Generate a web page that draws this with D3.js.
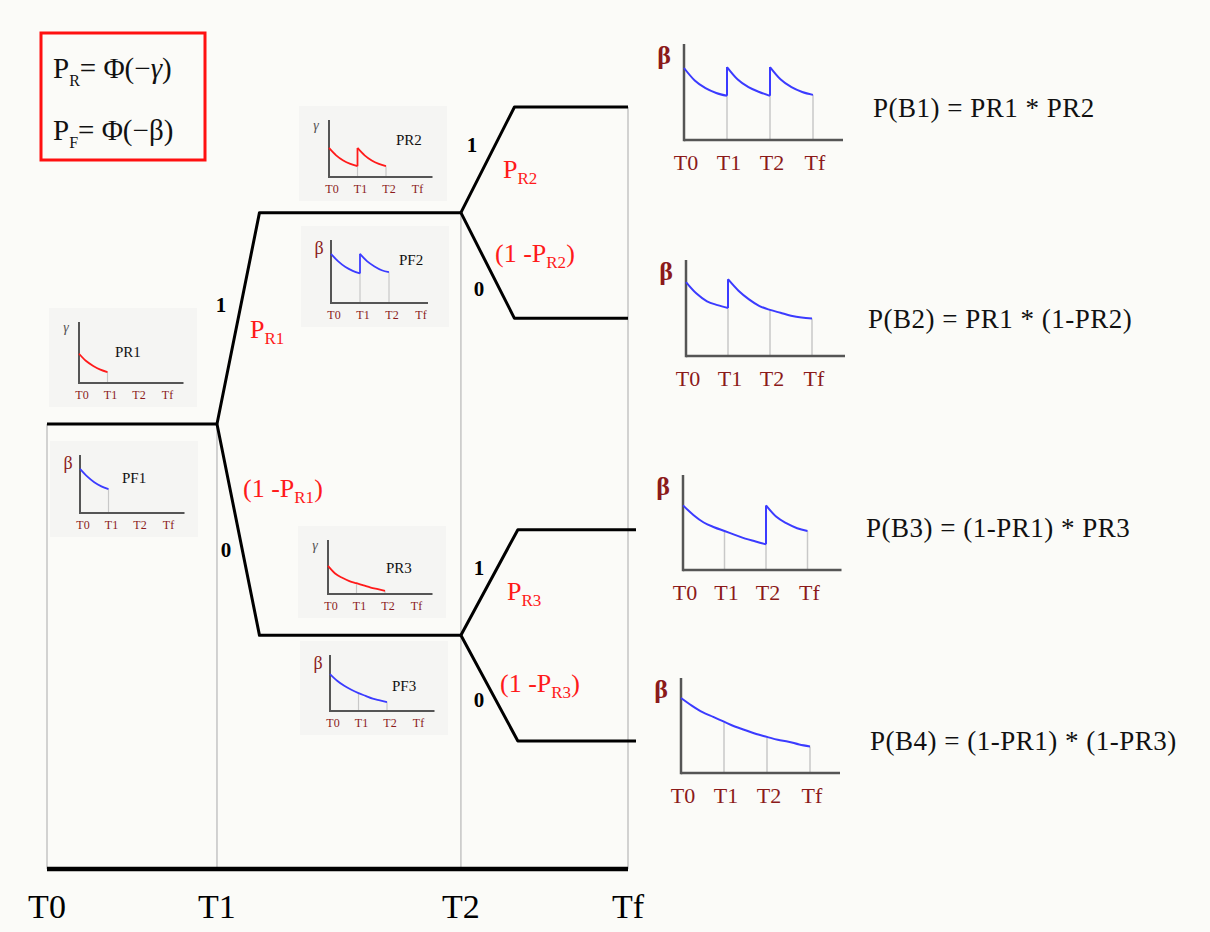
<!DOCTYPE html>
<html>
<head>
<meta charset="utf-8">
<script src="https://cdn.jsdelivr.net/npm/d3@7"></script>
<style>
  body { margin: 0; background: #fbfbf8; }
  svg { display: block; }
  text { font-family: "Liberation Serif", "Times New Roman", "DejaVu Serif", serif; }
</style>
</head>
<body>
<svg id="chart" width="1210" height="932"></svg>
<script>
// ---- data ----
var mainTicks = ["T0", "T1", "T2", "Tf"];
var mainTimes = [0, 1, 2.435, 3.418];
var insetTicks = ["T0", "T1", "T2", "Tf"];

// tree branches as [time, level]
var branches = [
  [[0, 0], [1, 0]],
  [[1, 0], [1.25, 2], [2.435, 2]],
  [[1, 0], [1.25, -2], [2.435, -2]],
  [[2.435, 2], [2.75, 3], [3.418, 3]],
  [[2.435, 2], [2.75, 1], [3.418, 1]],
  [[2.435, -2], [2.77, -1], [3.465, -1]],
  [[2.435, -2], [2.77, -3], [3.465, -3]]
];
// level at which each main guide line starts
var guideTops = [0, 0, 2, 3];

// inset curves: [tick position, share of axis height]
var pr1Curve = [[0, 0.48], [0.25, 0.36], [0.5, 0.28], [0.75, 0.22], [1, 0.18]];
var pf1Curve = [[0, 0.76], [0.25, 0.63], [0.5, 0.53], [0.75, 0.46], [1, 0.41]];
var pr2Curve = [[0, 0.51], [0.25, 0.38], [0.5, 0.29], [0.75, 0.23], [1, 0.19],
                [1, 0.51], [1.25, 0.38], [1.5, 0.29], [1.75, 0.23], [2, 0.19]];
var pf2Curve = [[0, 0.78], [0.25, 0.66], [0.5, 0.57], [0.75, 0.51], [1, 0.47],
                [1, 0.78], [1.25, 0.66], [1.5, 0.58], [1.75, 0.52], [2, 0.49]];
var pr3Curve = [[0, 0.52], [0.25, 0.38], [0.5, 0.3], [0.75, 0.24], [1, 0.2],
                [1.25, 0.16], [1.5, 0.12], [1.75, 0.09], [2, 0.06]];
var pf3Curve = [[0, 0.66], [0.25, 0.54], [0.5, 0.45], [0.75, 0.38], [1, 0.32],
                [1.25, 0.27], [1.5, 0.22], [1.75, 0.19], [2, 0.16]];
var b1Curve = [[0, 0.75], [0.25, 0.62], [0.5, 0.54], [0.75, 0.49], [1, 0.46],
               [1, 0.76], [1.25, 0.63], [1.5, 0.55], [1.75, 0.5], [2, 0.46],
               [2, 0.76], [2.25, 0.63], [2.5, 0.55], [2.75, 0.5], [3, 0.47]];
var b2Curve = [[0, 0.77], [0.25, 0.65], [0.5, 0.57], [0.75, 0.53], [1, 0.5],
               [1, 0.8], [1.25, 0.68], [1.5, 0.59], [1.75, 0.52], [2, 0.48],
               [2.25, 0.45], [2.5, 0.42], [2.75, 0.4], [3, 0.39]];
var b3Curve = [[0, 0.68], [0.25, 0.58], [0.5, 0.5], [0.75, 0.45], [1, 0.41],
               [1.25, 0.37], [1.5, 0.33], [1.75, 0.3], [2, 0.27],
               [2, 0.68], [2.25, 0.56], [2.5, 0.49], [2.75, 0.44], [3, 0.41]];
var b4Curve = [[0, 0.79], [0.25, 0.71], [0.5, 0.64], [0.75, 0.59], [1, 0.54],
               [1.25, 0.49], [1.5, 0.45], [1.75, 0.41], [2, 0.38],
               [2.25, 0.35], [2.5, 0.33], [2.75, 0.3], [3, 0.28]];

var formulas = ["P(B1) = PR1 * PR2", "P(B2) = PR1 * (1-PR2)",
                "P(B3) = (1-PR1) * PR3", "P(B4) = (1-PR1) * (1-PR3)"];

// ---- layout ----
var svg = d3.select("#chart");
var red = "#ff1a1a", blue = "#3b3bff", darkRed = "#8b1a1a";

var x = d3.scaleLinear().domain([0, 3.418]).range([47, 628]);
var y = d3.scaleLinear().domain([-3, 3]).range([741, 107]);
var axisY = 869;

// guide lines
svg.append("g").selectAll("line")
    .data(mainTimes)
  .enter().append("line")
    .attr("x1", function(d) { return x(d); })
    .attr("x2", function(d) { return x(d); })
    .attr("y1", function(d, i) { return y(guideTops[i]); })
    .attr("y2", axisY)
    .attr("stroke", "#c4c4c4")
    .attr("stroke-width", 1.5);

// main axis
svg.append("line")
    .attr("x1", x(0)).attr("x2", x(3.418))
    .attr("y1", axisY).attr("y2", axisY)
    .attr("stroke", "#000").attr("stroke-width", 4.5);

svg.append("g").selectAll("text")
    .data(mainTicks)
  .enter().append("text")
    .attr("x", function(d, i) { return x(mainTimes[i]); })
    .attr("y", 918)
    .attr("text-anchor", "middle")
    .attr("font-size", 34)
    .text(function(d) { return d; });

// tree
var treeLine = d3.line()
    .x(function(d) { return x(d[0]); })
    .y(function(d) { return y(d[1]); });

svg.append("g").selectAll("path")
    .data(branches)
  .enter().append("path")
    .attr("d", treeLine)
    .attr("fill", "none")
    .attr("stroke", "#000")
    .attr("stroke-width", 3)
    .attr("stroke-linejoin", "round");

// branch labels
var digitLabels = [
  {x: 221, y: 312, t: "1"}, {x: 226, y: 557, t: "0"},
  {x: 472, y: 152, t: "1"}, {x: 479, y: 296, t: "0"},
  {x: 479, y: 575, t: "1"}, {x: 479, y: 707, t: "0"}
];
svg.append("g").selectAll("text")
    .data(digitLabels)
  .enter().append("text")
    .attr("x", function(d) { return d.x; })
    .attr("y", function(d) { return d.y; })
    .attr("text-anchor", "middle")
    .attr("font-size", 21)
    .attr("font-weight", "bold")
    .text(function(d) { return d.t; });

var probLabels = [
  {x: 250, y: 338, pre: "", sub: "R1", post: ""},
  {x: 243, y: 497, pre: "(1 -", sub: "R1", post: ")"},
  {x: 503, y: 178, pre: "", sub: "R2", post: ""},
  {x: 495, y: 262, pre: "(1 -", sub: "R2", post: ")"},
  {x: 507, y: 600, pre: "", sub: "R3", post: ""},
  {x: 500, y: 692, pre: "(1 -", sub: "R3", post: ")"}
];
probLabels.forEach(function(d) {
  var t = svg.append("text")
      .attr("x", d.x).attr("y", d.y)
      .attr("fill", red)
      .attr("font-size", 26);
  t.append("tspan").text(d.pre + "P");
  t.append("tspan").attr("font-size", 17).attr("dy", 6).text(d.sub);
  if (d.post) t.append("tspan").attr("dy", -6).text(d.post);
});

// legend box
svg.append("rect")
    .attr("x", 41).attr("y", 33)
    .attr("width", 164).attr("height", 127)
    .attr("fill", "none")
    .attr("stroke", "#ff1010")
    .attr("stroke-width", 3);

[{y: 78, sub: "R", g: "\u03b3"}, {y: 140, sub: "F", g: "\u03b2"}].forEach(function(d) {
  var t = svg.append("text")
      .attr("x", 53).attr("y", d.y)
      .attr("font-size", 29)
      .attr("fill", "#111");
  t.append("tspan").text("P");
  t.append("tspan").attr("font-size", 16).attr("dy", 8).text(d.sub);
  t.append("tspan").attr("dy", -8).text("= \u03a6(\u2212");
  t.append("tspan").attr("font-style", d.sub === "R" ? "italic" : "normal").text(d.g);
  t.append("tspan").text(")");
});

// ---- insets ----
var insets = [
  {curve: pr1Curve, x: 79, bottom: 383, h: 61, step: 28.5, ext: 19, color: red, sym: "\u03b3", name: "PR1", nx: 115, ny: 357, big: false},
  {curve: pf1Curve, x: 80, bottom: 513, h: 58, step: 28.5, ext: 19, color: blue, sym: "\u03b2", name: "PF1", nx: 122, ny: 483, big: false},
  {curve: pr2Curve, x: 329, bottom: 177, h: 57, step: 28.5, ext: 18, color: red, sym: "\u03b3", name: "PR2", nx: 396, ny: 145, big: false},
  {curve: pf2Curve, x: 331, bottom: 303, h: 63, step: 29, ext: 10, color: blue, sym: "\u03b2", name: "PF2", nx: 399, ny: 265, big: false},
  {curve: pr3Curve, x: 328, bottom: 594, h: 54, step: 28.5, ext: 19, color: red, sym: "\u03b3", name: "PR3", nx: 386, ny: 573, big: false},
  {curve: pf3Curve, x: 330, bottom: 711, h: 56, step: 28.5, ext: 19, color: blue, sym: "\u03b2", name: "PF3", nx: 392, ny: 691, big: false},
  {curve: b1Curve, x: 684, bottom: 140, h: 96, step: 43, ext: 30, color: blue, sym: "\u03b2", big: true},
  {curve: b2Curve, x: 686, bottom: 356, h: 96, step: 42, ext: 33, color: blue, sym: "\u03b2", big: true},
  {curve: b3Curve, x: 683, bottom: 570, h: 95, step: 41.5, ext: 34, color: blue, sym: "\u03b2", big: true},
  {curve: b4Curve, x: 681, bottom: 773, h: 95, step: 43, ext: 30, color: blue, sym: "\u03b2", big: true}
];

function segments(curve) {
  var out = [], cur = [];
  curve.forEach(function(p, i) {
    if (i > 0 && p[0] === curve[i - 1][0]) { out.push(cur); cur = []; }
    cur.push(p);
  });
  out.push(cur);
  return out;
}

insets.forEach(function(cfg) {
  var g = svg.append("g");
  var ix = d3.scaleLinear().domain([0, 3]).range([cfg.x, cfg.x + 3 * cfg.step]);
  var iy = d3.scaleLinear().domain([0, 1]).range([cfg.bottom, cfg.bottom - cfg.h]);

  if (!cfg.big) {
    g.append("rect")
        .attr("x", cfg.x - 30).attr("y", cfg.bottom - cfg.h - 14)
        .attr("width", 148).attr("height", cfg.h + 38)
        .attr("fill", "#f5f5f3");
  }

  // guides at the ticks covered by the curve
  var maxT = d3.max(cfg.curve, function(d) { return d[0]; });
  var guides = d3.range(1, 4).filter(function(t) { return t <= maxT; }).map(function(t) {
    return [t, d3.min(cfg.curve.filter(function(p) { return p[0] === t; }), function(p) { return p[1]; })];
  });
  g.selectAll(".guide")
      .data(guides)
    .enter().append("line")
      .attr("x1", function(d) { return ix(d[0]); })
      .attr("x2", function(d) { return ix(d[0]); })
      .attr("y1", function(d) { return iy(d[1]); })
      .attr("y2", iy(0))
      .attr("stroke", "#c8c8c8")
      .attr("stroke-width", cfg.big ? 1.5 : 1.2);

  // axes
  var aw = cfg.big ? 2.5 : 2;
  g.append("line")
      .attr("x1", ix(0)).attr("x2", ix(0))
      .attr("y1", iy(0) + aw / 2).attr("y2", iy(1))
      .attr("stroke", "#555").attr("stroke-width", aw);
  g.append("line")
      .attr("x1", ix(0)).attr("x2", ix(3) + cfg.ext)
      .attr("y1", iy(0)).attr("y2", iy(0))
      .attr("stroke", "#555").attr("stroke-width", aw);

  // curve
  var segs = segments(cfg.curve);
  var line = d3.line()
      .x(function(d) { return ix(d[0]); })
      .y(function(d) { return iy(d[1]); })
      .curve(d3.curveMonotoneX);
  g.selectAll(".seg")
      .data(segs)
    .enter().append("path")
      .attr("d", line)
      .attr("fill", "none")
      .attr("stroke", cfg.color)
      .attr("stroke-width", cfg.big ? 2 : 1.8);
  for (var i = 1; i < segs.length; i++) {
    var a = segs[i - 1][segs[i - 1].length - 1], b = segs[i][0];
    g.append("line")
        .attr("x1", ix(a[0])).attr("x2", ix(b[0]))
        .attr("y1", iy(a[1])).attr("y2", iy(b[1]))
        .attr("stroke", cfg.color)
        .attr("stroke-width", cfg.big ? 2 : 1.8);
  }

  // tick labels
  g.selectAll(".tick")
      .data(insetTicks)
    .enter().append("text")
      .attr("x", function(d, i) { return ix(i) + (cfg.big ? 2 : 3); })
      .attr("y", iy(0) + (cfg.big ? 30 : 16))
      .attr("text-anchor", "middle")
      .attr("fill", darkRed)
      .attr("font-size", cfg.big ? 22 : 12)
      .text(function(d) { return d; });

  // symbol
  var isGamma = cfg.sym === "\u03b3";
  g.append("text")
      .attr("x", ix(0) - (cfg.big ? 20 : (isGamma ? 13 : 12)))
      .attr("y", iy(1) + (cfg.big ? 20 : (isGamma ? 10 : 14)))
      .attr("text-anchor", "middle")
      .attr("fill", isGamma ? "#555" : darkRed)
      .attr("font-style", isGamma ? "italic" : "normal")
      .attr("font-weight", cfg.big ? "bold" : "normal")
      .attr("font-size", cfg.big ? 26 : (isGamma ? 14 : 18))
      .text(cfg.sym);

  if (cfg.name) {
    g.append("text")
        .attr("x", cfg.nx).attr("y", cfg.ny)
        .attr("font-size", 15)
        .attr("fill", "#111")
        .text(cfg.name);
  }
});

// formulas
var formulaPos = [{x: 873, y: 117}, {x: 868, y: 328}, {x: 866, y: 537}, {x: 870, y: 750}];
svg.append("g").selectAll("text")
    .data(formulas)
  .enter().append("text")
    .attr("x", function(d, i) { return formulaPos[i].x; })
    .attr("y", function(d, i) { return formulaPos[i].y; })
    .attr("font-size", 27)
    .attr("letter-spacing", 0.5)
    .attr("fill", "#111")
    .text(function(d) { return d; });
</script>
</body>
</html>
